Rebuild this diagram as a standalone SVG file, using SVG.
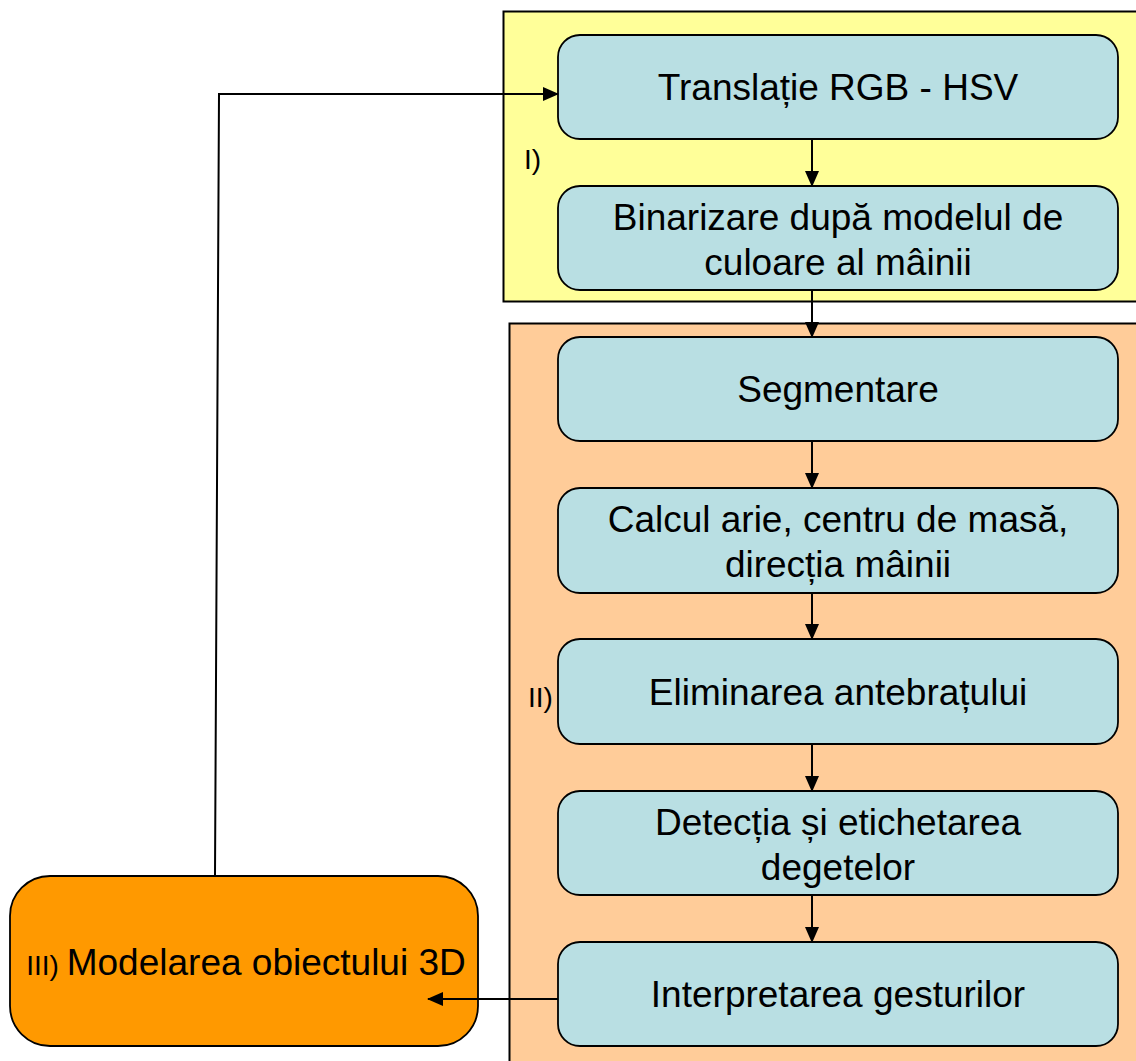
<svg xmlns="http://www.w3.org/2000/svg" width="1136" height="1061" viewBox="0 0 1136 1061">
<style>
.panel{stroke:#000;stroke-width:2}
.box{fill:#B9DFE3;stroke:#000;stroke-width:1.8}
.t{font-family:"Liberation Sans",Arial,sans-serif;font-size:37px;fill:#000;text-anchor:middle}
.s{font-family:"Liberation Sans",Arial,sans-serif;font-size:28px;fill:#000}
.c{fill:none;stroke:#000;stroke-width:2}
</style>
<defs>
<marker id="ah" markerWidth="16" markerHeight="14" refX="15" refY="7" orient="auto" markerUnits="userSpaceOnUse">
<path d="M0,0 L16,7 L0,14 Z" fill="#000"/>
</marker>
</defs>
<rect width="1136" height="1061" fill="#fff"/>
<g id="panel-I">
<rect class="panel" x="503.5" y="11.5" width="640" height="290" fill="#FFFF99"/>
<text class="s" x="524" y="169">I)</text>
</g>
<g id="panel-II">
<rect class="panel" x="509.5" y="323.5" width="640" height="750" fill="#FFCC99"/>
<text class="s" x="528" y="707">II)</text>
</g>
<g id="n1"><rect class="box" x="558" y="35" width="560" height="104" rx="22"/><text class="t" x="838" y="100">Translație RGB - HSV</text></g>
<g id="n2"><rect class="box" x="558" y="186" width="560" height="104" rx="22"/><text class="t" x="838" y="230">Binarizare după modelul de</text><text class="t" x="838" y="275">culoare al mâinii</text></g>
<g id="n3"><rect class="box" x="558" y="337" width="560" height="104" rx="22"/><text class="t" x="838" y="402">Segmentare</text></g>
<g id="n4"><rect class="box" x="558" y="488" width="560" height="105" rx="22"/><text class="t" x="838" y="532">Calcul arie, centru de masă,</text><text class="t" x="838" y="577">direcția mâinii</text></g>
<g id="n5"><rect class="box" x="558" y="639" width="560" height="105" rx="22"/><text class="t" x="838" y="705">Eliminarea antebrațului</text></g>
<g id="n6"><rect class="box" x="558" y="791" width="560" height="104" rx="22"/><text class="t" x="838" y="835">Detecția și etichetarea</text><text class="t" x="838" y="880">degetelor</text></g>
<g id="n7"><rect class="box" x="558" y="942" width="560" height="104" rx="22"/><text class="t" x="838" y="1007">Interpretarea gesturilor</text></g>
<g id="n8"><rect x="10" y="876" width="468" height="170" rx="40" fill="#FF9900" stroke="#000" stroke-width="1.8"/><text x="246" y="975" style="font-family:'Liberation Sans',Arial,sans-serif;fill:#000;text-anchor:middle"><tspan font-size="28">III) </tspan><tspan font-size="37">Modelarea obiectului 3D</tspan></text></g>
<g id="connectors">
<line class="c" x1="812" y1="139" x2="812" y2="186" marker-end="url(#ah)"/>
<line class="c" x1="812" y1="290" x2="812" y2="337" marker-end="url(#ah)"/>
<line class="c" x1="812" y1="441" x2="812" y2="488" marker-end="url(#ah)"/>
<line class="c" x1="812" y1="593" x2="812" y2="639" marker-end="url(#ah)"/>
<line class="c" x1="812" y1="744" x2="812" y2="791" marker-end="url(#ah)"/>
<line class="c" x1="812" y1="895" x2="812" y2="942" marker-end="url(#ah)"/>
<line class="c" x1="558" y1="999" x2="428" y2="999" marker-end="url(#ah)"/>
<path class="c" d="M215,876 L219,94 L558,94" marker-end="url(#ah)"/>
</g>
</svg>
